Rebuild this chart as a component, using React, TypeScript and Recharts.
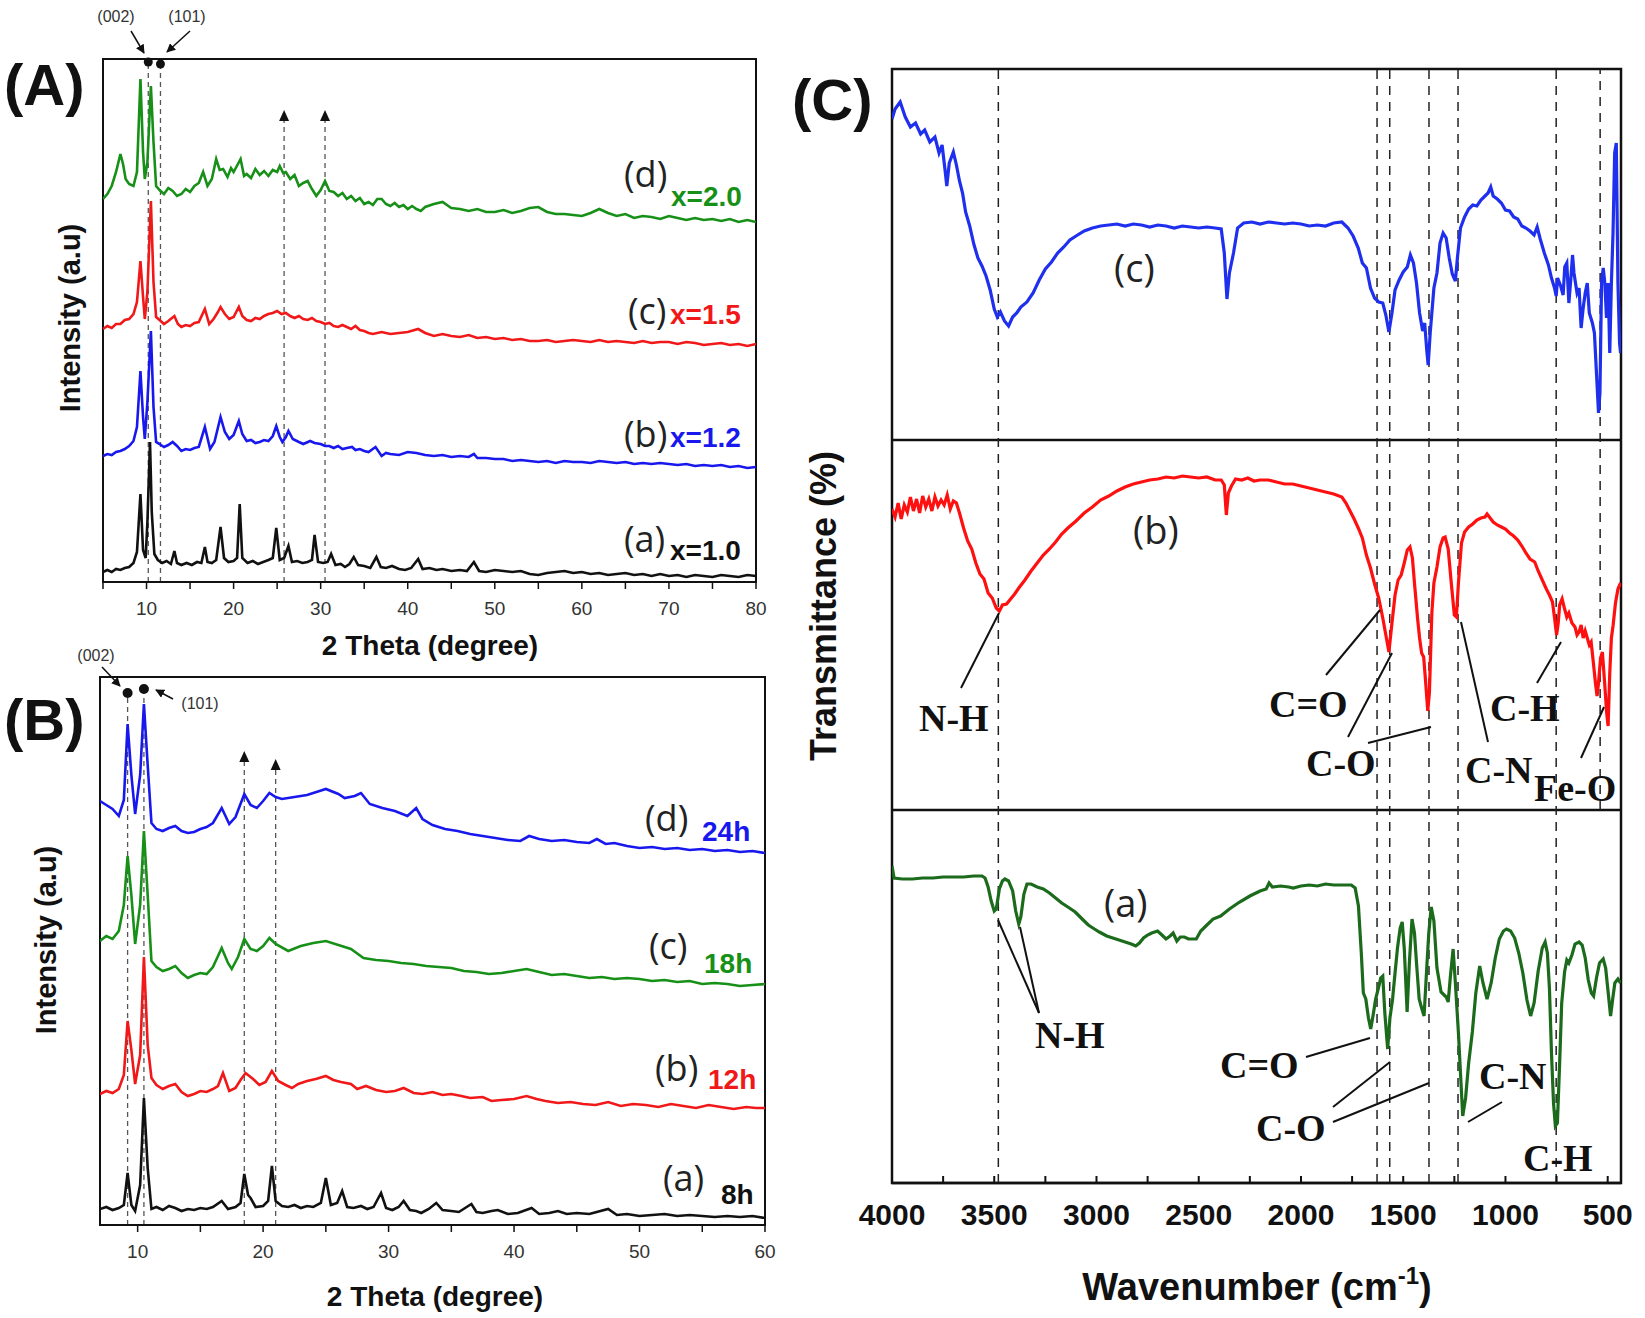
import { LineChart, Line, XAxis, YAxis, ReferenceLine, ReferenceArea, ReferenceDot } from 'recharts'

type Pt = [number, number]

// ---- (A) XRD, x = 1.0 ... 2.0 (intensity in a.u., curves already offset)
const xrdA_x10: Pt[] = [
  [5, 10], [5.5, 12], [6, 10], [6.5, 13], [7, 12], [7.5, 14], [8, 15], [8.5, 19], [8.9, 30], [9.3, 88], [9.6, 32],
  [9.9, 24], [10.1, 60], [10.4, 140], [10.6, 70], [10.9, 28], [11.3, 22], [11.8, 19], [12.3, 21], [12.8, 18],
  [13.2, 31], [13.5, 19], [14, 17], [14.6, 19], [15.2, 17], [15.8, 20], [16.3, 19], [16.7, 35], [17, 20],
  [17.5, 19], [18, 22], [18.5, 55], [18.9, 24], [19.4, 20], [20, 21], [20.4, 24], [20.7, 78], [21, 24],
  [21.6, 19], [22.2, 21], [22.8, 18], [23.4, 20], [24, 22], [24.5, 24], [24.9, 54], [25.3, 22], [25.8, 24],
  [26.3, 36], [26.7, 20], [27.3, 21], [27.9, 19], [28.5, 20], [29, 22], [29.3, 47], [29.7, 20], [30.3, 19],
  [30.8, 20], [31.2, 28], [31.7, 17], [32.3, 18], [32.8, 15], [33.3, 18], [33.8, 25], [34.3, 17], [35, 16],
  [35.7, 14], [36.4, 25], [36.9, 15], [37.5, 14], [38.2, 16], [39, 13], [39.7, 12], [40.4, 14], [41.2, 23],
  [41.7, 13], [42.5, 14], [43.3, 12], [44, 13], [45, 11], [46, 12], [46.8, 11], [47.6, 20], [48.2, 11], [49, 10],
  [50, 12], [51, 11], [52, 10], [53, 11], [54, 8], [55, 7], [56, 9], [57, 10], [58, 11], [59, 9], [60, 10],
  [61, 8], [62, 9], [63, 7], [64, 8], [65, 9], [66, 7], [67, 8], [68, 6], [69, 8], [70, 6], [71, 7], [72, 5],
  [73, 7], [74, 6], [75, 5], [76, 7], [77, 6], [78, 5], [79, 7], [80, 6],
]
const xrdA_x12: Pt[] = [
  [5, 126], [5.5, 128], [6, 127], [6.5, 130], [7, 131], [7.5, 133], [8, 136], [8.5, 141], [8.9, 155], [9.3, 211],
  [9.6, 165], [9.8, 143], [10.1, 180], [10.5, 251], [10.8, 175], [11.1, 140], [11.5, 138], [12, 135], [12.5, 137],
  [13, 140], [13.5, 136], [14, 131], [14.5, 133], [15, 132], [15.5, 134], [16, 135], [16.7, 155], [17.3, 133],
  [17.8, 140], [18.5, 165], [19, 150], [19.5, 143], [20, 147], [20.6, 161], [21, 148], [21.5, 141], [22, 142],
  [22.5, 139], [23, 140], [23.5, 142], [24, 141], [24.5, 146], [24.9, 156], [25.3, 145], [25.6, 140], [26, 145],
  [26.3, 151], [26.8, 143], [27.5, 140], [28, 138], [28.8, 141], [29.3, 139], [30, 138], [30.5, 136], [31, 136],
  [31.5, 134], [32, 136], [32.5, 133], [33, 134], [33.6, 135], [34, 132], [34.5, 133], [35, 131], [35.5, 130],
  [36.3, 135], [37, 126], [37.5, 129], [38, 128], [39, 127], [40, 130], [41, 129], [42, 127], [43, 126], [44, 127],
  [45, 125], [46, 126], [47, 125], [47.6, 128], [48, 124], [49, 124], [50, 123], [51, 123], [52, 121], [53, 122],
  [54, 121], [55, 120], [56, 121], [57, 119], [58, 121], [59, 120], [60, 120], [61, 119], [62, 121], [63, 120],
  [64, 119], [65, 120], [66, 118], [67, 119], [68, 118], [69, 119], [70, 118], [71, 117], [72, 118], [73, 116],
  [74, 117], [75, 116], [76, 117], [77, 115], [78, 116], [79, 114], [80, 115],
]
const xrdA_x15: Pt[] = [
  [5, 253], [5.5, 256], [6, 254], [6.5, 258], [7, 258], [7.5, 262], [8, 263], [8.5, 268], [8.9, 280], [9.3, 321],
  [9.6, 285], [9.8, 263], [10.1, 290], [10.5, 381], [10.8, 300], [11.1, 265], [11.5, 262], [12, 258], [12.5, 261],
  [13.2, 266], [13.6, 258], [14, 255], [14.5, 257], [15, 256], [15.5, 259], [16, 260], [16.7, 273], [17.2, 258],
  [17.7, 263], [18.2, 270], [18.5, 275], [19, 268], [19.5, 263], [20, 265], [20.6, 275], [21, 266], [21.5, 262],
  [22, 261], [22.5, 264], [23, 263], [23.5, 266], [24, 268], [24.5, 269], [25, 271], [25.5, 268], [26, 269],
  [26.5, 266], [27, 264], [27.5, 266], [28, 263], [28.5, 262], [29, 264], [29.5, 261], [30, 260], [30.5, 258],
  [31, 259], [31.5, 256], [32, 255], [32.5, 257], [33, 255], [33.5, 253], [34, 256], [34.5, 252], [35, 251],
  [35.5, 249], [36, 248], [37, 250], [38, 248], [39, 249], [40, 250], [41.2, 253], [42, 249], [43, 246], [44, 248],
  [45, 246], [46, 245], [47, 247], [48, 244], [49, 245], [50, 243], [51, 244], [52, 242], [53, 243], [54, 241],
  [55, 241], [56, 242], [57, 240], [58, 241], [59, 242], [60, 241], [61, 240], [62, 242], [63, 240], [64, 241],
  [65, 240], [66, 239], [67, 241], [68, 239], [69, 240], [70, 240], [71, 238], [72, 240], [73, 239], [74, 237],
  [75, 238], [76, 239], [77, 237], [78, 238], [79, 236], [80, 238],
]
const xrdA_x20: Pt[] = [
  [5, 383], [5.5, 388], [6, 396], [6.5, 410], [7, 428], [7.3, 418], [7.6, 403], [8, 398], [8.5, 396], [8.9, 410],
  [9.3, 503], [9.6, 430], [9.8, 403], [10.1, 420], [10.5, 496], [10.8, 440], [11.1, 396], [11.5, 392], [12, 388],
  [12.5, 394], [13, 391], [13.5, 386], [14, 388], [14.5, 393], [15, 390], [15.5, 396], [16, 399], [16.5, 410],
  [17, 396], [17.5, 403], [18, 423], [18.4, 412], [18.8, 413], [19.3, 405], [19.7, 414], [20, 410], [20.5, 418],
  [20.8, 423], [21.2, 406], [21.5, 408], [22, 404], [22.5, 413], [23, 407], [23.5, 411], [24, 406], [24.5, 412],
  [25, 410], [25.3, 416], [25.7, 409], [26, 410], [26.5, 403], [27, 407], [27.5, 396], [28, 399], [28.5, 401],
  [29, 393], [29.5, 386], [30, 392], [30.5, 401], [31, 391], [31.5, 390], [32, 386], [32.5, 389], [33, 383],
  [33.5, 386], [34, 381], [34.5, 384], [35, 378], [35.5, 380], [36, 377], [36.5, 383], [37, 383], [37.5, 378],
  [38, 376], [38.5, 379], [39, 375], [39.5, 377], [40, 373], [40.5, 376], [41, 373], [41.5, 371], [42, 375],
  [43, 378], [44, 380], [45, 374], [46, 373], [47, 371], [48, 373], [49, 370], [50, 370], [51, 372], [52, 369],
  [53, 371], [54, 374], [55, 375], [56, 370], [57, 368], [58, 368], [59, 367], [60, 366], [61, 369], [62, 373],
  [63, 369], [64, 366], [65, 368], [66, 364], [67, 366], [68, 365], [69, 363], [70, 366], [71, 364], [72, 362],
  [73, 364], [74, 362], [75, 363], [76, 361], [77, 363], [78, 360], [79, 362], [80, 360],
]

// ---- (B) XRD, 8 h ... 24 h
const xrdB_8h: Pt[] = [
  [7, 16], [7.5, 18], [8, 15], [8.5, 17], [8.9, 20], [9.2, 52], [9.5, 20], [9.8, 14], [10.2, 40], [10.5, 127],
  [10.8, 57], [11.1, 16], [11.5, 18], [12, 15], [12.5, 19], [13, 17], [13.5, 14], [14, 16], [14.5, 15], [15, 17],
  [15.5, 16], [16, 18], [16.7, 24], [17.2, 16], [17.8, 18], [18.2, 22], [18.5, 51], [18.8, 30], [19, 27],
  [19.4, 18], [20, 19], [20.4, 24], [20.7, 59], [21, 24], [21.5, 19], [22, 18], [22.5, 20], [23, 17], [23.5, 19],
  [24, 18], [24.6, 22], [25, 47], [25.4, 20], [25.9, 22], [26.3, 34], [26.7, 18], [27.2, 17], [27.8, 19],
  [28.3, 16], [28.8, 18], [29.4, 32], [29.8, 17], [30.3, 15], [30.8, 18], [31.2, 24], [31.7, 15], [32.2, 14],
  [32.6, 12], [33.2, 16], [33.8, 22], [34.3, 15], [35, 14], [35.6, 13], [36.6, 21], [37, 13], [37.5, 12],
  [38.2, 14], [38.7, 15], [39.5, 11], [40.3, 12], [41.4, 17], [42, 11], [42.8, 12], [43.5, 14], [44.2, 11],
  [45, 12], [46, 11], [47.5, 16], [48.2, 10], [49, 11], [50, 9], [51, 10], [52, 11], [53, 9], [54, 10], [55, 9],
  [56, 8], [57, 9], [58, 8], [59, 9], [60, 7],
]
const xrdB_12h: Pt[] = [
  [7, 131], [7.5, 134], [8, 132], [8.5, 136], [8.9, 150], [9.2, 204], [9.5, 175], [9.8, 141], [10.2, 170],
  [10.5, 268], [10.8, 180], [11.1, 147], [11.5, 140], [12, 136], [12.5, 139], [13, 141], [13.5, 133], [14, 129],
  [14.5, 131], [15, 134], [15.5, 133], [16, 136], [16.4, 139], [16.8, 152], [17.3, 134], [17.8, 137], [18.2, 145],
  [18.6, 152], [19.2, 146], [19.7, 140], [20.2, 143], [20.7, 154], [21.2, 144], [21.8, 140], [22.3, 137],
  [22.8, 141], [23.5, 144], [24.2, 146], [25, 149], [25.6, 145], [26.2, 143], [27, 141], [27.5, 136], [28.2, 139],
  [29, 135], [29.8, 133], [30.5, 134], [31.2, 137], [32, 132], [32.7, 131], [33.5, 133], [34.3, 130], [35, 131],
  [35.8, 129], [36.5, 127], [37.5, 128], [38.2, 124], [39, 125], [40, 126], [41, 129], [41.8, 126], [42.5, 124],
  [43.5, 122], [44.5, 123], [45.5, 121], [46.5, 120], [47.5, 123], [48.5, 119], [49.5, 121], [50.5, 120],
  [51.5, 118], [52.5, 121], [53.5, 119], [54.5, 117], [55.5, 120], [56.5, 118], [57.5, 116], [58.5, 118],
  [59.3, 117], [60, 117],
]
const xrdB_18h: Pt[] = [
  [7, 284], [7.5, 289], [8, 286], [8.5, 294], [8.9, 320], [9.2, 369], [9.5, 330], [9.8, 281], [10.2, 320],
  [10.5, 394], [10.8, 330], [11.1, 264], [11.5, 258], [12, 254], [12.5, 256], [13, 259], [13.5, 252], [14, 247],
  [14.5, 250], [15, 252], [15.5, 251], [16, 258], [16.7, 277], [17.2, 262], [17.5, 256], [18, 268], [18.5, 286],
  [19, 276], [19.5, 274], [20, 279], [20.5, 287], [21, 281], [22, 274], [23, 279], [24, 282], [25, 284], [26, 280],
  [27, 276], [28, 267], [29, 265], [30, 264], [31, 262], [32, 261], [33, 259], [34, 258], [35, 257], [36, 254],
  [37, 253], [38, 251], [39, 252], [40, 254], [41, 256], [42, 253], [43, 250], [44, 251], [45, 249], [46, 247],
  [47, 248], [48, 246], [49, 247], [50, 246], [51, 244], [52, 245], [53, 243], [54, 244], [55, 241], [56, 242],
  [57, 241], [58, 239], [59, 240], [60, 241],
]
const xrdB_24h: Pt[] = [
  [7, 424], [7.5, 420], [8, 416], [8.5, 409], [8.9, 425], [9.2, 501], [9.5, 450], [9.8, 411], [10.2, 450],
  [10.5, 521], [10.8, 460], [11.1, 402], [11.5, 396], [12, 394], [12.5, 397], [13, 399], [13.5, 394], [14, 392],
  [14.5, 393], [15, 396], [15.5, 398], [16, 402], [16.7, 417], [17.3, 401], [17.8, 408], [18.5, 431], [19, 420],
  [19.5, 417], [20, 424], [20.5, 432], [21, 428], [21.5, 426], [22.5, 428], [23.5, 430], [24.5, 434], [25, 436],
  [26, 431], [26.5, 427], [27.3, 429], [27.8, 432], [28.5, 421], [29.5, 417], [30.5, 414], [31.5, 409],
  [32.2, 417], [32.7, 406], [33.5, 400], [34.5, 396], [35.5, 394], [36.5, 391], [37.5, 389], [38.5, 387],
  [39.5, 385], [40.5, 384], [41.2, 389], [42, 386], [43, 384], [44, 385], [45, 383], [46, 382], [46.6, 386],
  [47.3, 381], [48, 382], [49, 379], [50, 377], [51, 378], [52, 376], [53, 377], [54, 375], [55, 376], [56, 374],
  [57, 375], [58, 373], [59, 374], [60, 372],
]

// ---- (C) FTIR, transmittance in a.u. (stacked a / b / c)
const ftir_c: Pt[] = [
  [4000, 1064], [3985, 1074], [3960, 1081], [3935, 1066], [3910, 1056], [3885, 1060], [3860, 1049], [3840, 1053],
  [3815, 1041], [3790, 1046], [3770, 1030], [3755, 1038], [3740, 1012], [3732, 997], [3720, 1020], [3700, 1031],
  [3685, 1018], [3670, 1002], [3655, 990], [3640, 971], [3620, 957], [3600, 939], [3580, 925], [3560, 917],
  [3540, 907], [3520, 893], [3500, 874], [3485, 866], [3470, 871], [3450, 862], [3430, 857], [3410, 866],
  [3390, 870], [3370, 876], [3340, 881], [3310, 890], [3280, 903], [3250, 914], [3220, 921], [3190, 930],
  [3160, 936], [3130, 943], [3100, 947], [3060, 952], [3020, 955], [2980, 957], [2940, 958], [2900, 959],
  [2860, 957], [2820, 959], [2780, 958], [2740, 956], [2700, 958], [2660, 957], [2620, 955], [2580, 957],
  [2540, 956], [2500, 955], [2460, 956], [2420, 955], [2390, 954], [2375, 930], [2362, 884], [2350, 910],
  [2340, 920], [2330, 930], [2310, 955], [2280, 960], [2240, 961], [2200, 959], [2160, 961], [2120, 960],
  [2080, 959], [2040, 960], [2000, 959], [1960, 957], [1920, 958], [1880, 957], [1840, 960], [1800, 961],
  [1770, 955], [1745, 947], [1720, 935], [1700, 920], [1680, 915], [1660, 895], [1640, 885], [1620, 881],
  [1600, 880], [1585, 868], [1570, 851], [1555, 870], [1540, 893], [1520, 903], [1500, 911], [1480, 916],
  [1465, 928], [1450, 920], [1435, 900], [1420, 870], [1405, 852], [1395, 860], [1385, 833], [1378, 818],
  [1368, 850], [1350, 895], [1335, 910], [1320, 940], [1305, 950], [1290, 945], [1275, 925], [1260, 909],
  [1245, 902], [1235, 925], [1220, 955], [1200, 966], [1180, 974], [1160, 978], [1140, 977], [1120, 983],
  [1100, 987], [1085, 990], [1072, 996], [1060, 987], [1040, 984], [1020, 980], [1000, 973], [980, 972],
  [960, 966], [940, 964], [920, 957], [900, 955], [880, 952], [860, 948], [845, 956], [830, 944], [810, 930],
  [790, 918], [775, 905], [760, 895], [752, 887], [745, 905], [730, 897], [718, 888], [710, 916], [700, 920],
  [690, 880], [680, 905], [672, 928], [665, 910], [650, 890], [640, 895], [630, 855], [620, 875], [610, 890],
  [600, 900], [590, 870], [575, 860], [565, 850], [555, 810], [545, 770], [538, 790], [530, 900], [522, 915],
  [514, 900], [506, 865], [498, 900], [490, 830], [482, 900], [474, 950], [466, 1030], [458, 1040], [450, 900],
  [442, 840], [437, 830],
]
const ftir_b: Pt[] = [
  [4000, 674], [3985, 666], [3970, 680], [3955, 664], [3940, 678], [3925, 671], [3910, 686], [3895, 672],
  [3880, 684], [3865, 670], [3850, 687], [3835, 676], [3820, 684], [3805, 672], [3790, 686], [3775, 677],
  [3760, 683], [3745, 678], [3730, 688], [3715, 674], [3700, 682], [3685, 680], [3670, 670], [3650, 655],
  [3630, 642], [3610, 634], [3590, 620], [3570, 609], [3550, 604], [3530, 590], [3510, 585], [3490, 575],
  [3475, 572], [3460, 578], [3440, 579], [3420, 584], [3400, 589], [3380, 595], [3350, 603], [3320, 612],
  [3290, 620], [3260, 628], [3230, 634], [3200, 641], [3170, 649], [3140, 655], [3100, 662], [3060, 670],
  [3020, 676], [2980, 683], [2940, 687], [2900, 692], [2860, 696], [2820, 699], [2780, 701], [2740, 703],
  [2700, 704], [2660, 706], [2620, 705], [2580, 707], [2540, 706], [2500, 705], [2460, 706], [2420, 703],
  [2390, 703], [2375, 698], [2365, 668], [2355, 690], [2340, 697], [2320, 704], [2290, 703], [2260, 705],
  [2230, 702], [2200, 703], [2160, 703], [2120, 701], [2080, 699], [2040, 699], [2000, 697], [1960, 695],
  [1920, 693], [1880, 691], [1840, 689], [1800, 686], [1780, 680], [1760, 672], [1740, 664], [1720, 655],
  [1700, 645], [1680, 628], [1660, 615], [1640, 599], [1620, 585], [1600, 565], [1585, 548], [1570, 531],
  [1555, 560], [1540, 588], [1525, 603], [1510, 608], [1495, 620], [1480, 633], [1467, 636], [1455, 625],
  [1445, 600], [1430, 565], [1420, 545], [1410, 530], [1400, 526], [1390, 500], [1380, 472], [1372, 490],
  [1360, 570], [1350, 600], [1335, 616], [1320, 636], [1305, 645], [1295, 646], [1280, 634], [1265, 600],
  [1250, 568], [1240, 566], [1230, 600], [1215, 640], [1200, 651], [1180, 656], [1160, 659], [1140, 663],
  [1120, 665], [1100, 666], [1090, 669], [1075, 665], [1060, 661], [1040, 658], [1020, 656], [1000, 654],
  [980, 650], [960, 647], [940, 643], [920, 637], [900, 630], [880, 624], [857, 621], [840, 612], [820, 603],
  [800, 594], [785, 588], [770, 581], [760, 565], [750, 548], [742, 560], [735, 578], [723, 584], [712, 575],
  [700, 566], [690, 570], [675, 560], [660, 556], [650, 548], [640, 551], [630, 558], [620, 545], [610, 552],
  [600, 545], [590, 538], [581, 541], [570, 520], [560, 500], [552, 487], [545, 500], [535, 525], [526, 531],
  [515, 500], [505, 470], [498, 457], [490, 510], [482, 545], [474, 557], [462, 580], [450, 594], [437, 600],
]
const ftir_a: Pt[] = [
  [4000, 317], [3990, 305], [3950, 304], [3900, 304], [3850, 305], [3800, 305], [3750, 306], [3700, 306],
  [3650, 306], [3600, 307], [3560, 307], [3545, 305], [3530, 296], [3515, 282], [3500, 272], [3490, 274],
  [3475, 294], [3460, 302], [3448, 304], [3430, 302], [3410, 292], [3395, 272], [3380, 259], [3370, 266],
  [3355, 289], [3340, 299], [3320, 299], [3290, 296], [3260, 294], [3230, 290], [3200, 285], [3170, 280],
  [3140, 276], [3104, 271], [3070, 264], [3040, 258], [3010, 254], [2986, 251], [2950, 247], [2920, 245],
  [2890, 243], [2860, 241], [2830, 239], [2808, 237], [2790, 240], [2770, 245], [2750, 248], [2730, 250],
  [2701, 252], [2680, 248], [2660, 244], [2640, 247], [2625, 250], [2607, 242], [2590, 246], [2570, 246],
  [2550, 244], [2530, 244], [2512, 244], [2490, 252], [2460, 258], [2430, 264], [2393, 267], [2350, 274],
  [2300, 281], [2250, 287], [2200, 292], [2170, 294], [2156, 300], [2140, 296], [2100, 297], [2060, 296],
  [2038, 295], [2000, 297], [1960, 298], [1920, 297], [1880, 299], [1840, 298], [1800, 298], [1754, 298],
  [1735, 295], [1719, 277], [1705, 230], [1695, 190], [1683, 184], [1670, 165], [1659, 154], [1647, 168],
  [1635, 184], [1620, 196], [1610, 205], [1600, 207], [1590, 170], [1576, 134], [1565, 165], [1552, 184],
  [1540, 210], [1528, 235], [1515, 255], [1505, 261], [1495, 235], [1481, 171], [1470, 220], [1457, 264],
  [1445, 250], [1435, 220], [1422, 184], [1410, 175], [1398, 167], [1385, 215], [1375, 250], [1363, 276],
  [1350, 262], [1335, 215], [1315, 191], [1300, 188], [1290, 186], [1280, 181], [1270, 205], [1256, 234],
  [1245, 200], [1230, 150], [1220, 110], [1209, 67], [1195, 85], [1180, 120], [1162, 151], [1145, 190],
  [1126, 217], [1110, 200], [1090, 184], [1070, 200], [1050, 225], [1030, 244], [1010, 252], [995, 254],
  [975, 252], [955, 245], [935, 230], [915, 210], [895, 183], [877, 167], [860, 180], [840, 212], [820, 235],
  [806, 241], [795, 230], [785, 195], [775, 130], [765, 80], [756, 57], [746, 60], [735, 120], [725, 180],
  [711, 211], [700, 223], [690, 220], [675, 228], [660, 239], [640, 241], [625, 238], [610, 225], [595, 203],
  [580, 190], [569, 187], [555, 205], [540, 220], [522, 224], [510, 215], [500, 195], [490, 175], [486, 167],
  [475, 185], [465, 200], [450, 204], [437, 200],
]

// marker positions
const peaksA_hkl = [10.2, 11.6]
const peaksA_tri = [25.8, 30.5]
const peaksB_hkl = [9.2, 10.5]
const peaksB_tri = [18.5, 21.0]
const ftirBands = [3480, 1628, 1566, 1374, 1232, 752]
const ftirFeO = 537

const ticksA = [5, 10, 15, 20, 25, 30, 35, 40, 45, 50, 55, 60, 65, 70, 75, 80]
const ticksB = [10, 15, 20, 25, 30, 35, 40, 45, 50, 55, 60]
const ticksC = [500, 750, 1000, 1250, 1500, 1750, 2000, 2250, 2500, 2750, 3000, 3250, 3500, 3750, 4000]

const rows = (pts: Pt[]) => pts.map(([x, y]) => ({ x, y }))

const SANS = '"Liberation Sans", Arial, sans-serif'
const LIGHT = '"Open Sans", Lato, sans-serif'
const SERIF = '"Liberation Serif", "Times New Roman", serif'

const GREEN = '#179017'
const RED = '#f01818'
const BLUE = '#1818ee'
const BLACK = '#111'
const XW = 2.6

const tri = (p: any) => (
  <path d={`M${p.cx},${p.cy - 6} L${p.cx + 5},${p.cy + 5} L${p.cx - 5},${p.cy + 5} Z`} fill="#111" />
)

function PanelA() {
  const ymax = 523
  return (
    <LineChart width={780} height={680} margin={{ top: 59, right: 24, bottom: 58, left: 103 }}
      style={{ position: 'absolute', left: 0, top: 0 }}>
      <XAxis dataKey="x" type="number" domain={[5, 80]} allowDataOverflow ticks={ticksA} height={40}
        tickFormatter={(v: number) => (v % 10 === 0 ? String(v) : '')}
        tick={{ fontSize: 19, fill: '#333', fontFamily: SANS }} tickSize={7} tickMargin={13}
        axisLine={{ stroke: BLACK, strokeWidth: 2 }} tickLine={{ stroke: BLACK, strokeWidth: 1.5 }} />
      <YAxis type="number" domain={[0, ymax]} allowDataOverflow hide />
      <ReferenceArea x1={5} x2={80} y1={0} y2={ymax} fill="none" stroke={BLACK} strokeWidth={2} />
      {peaksA_hkl.map((x) => (
        <ReferenceLine key={x} segment={[{ x, y: 0 }, { x, y: ymax - 3 }]} stroke="#555" strokeDasharray="5 4" strokeWidth={1.3} />
      ))}
      {peaksA_tri.map((x) => (
        <ReferenceLine key={x} segment={[{ x, y: 0 }, { x, y: 466 }]} stroke="#555" strokeDasharray="5 4" strokeWidth={1.3} />
      ))}
      <Line data={rows(xrdA_x10)} dataKey="y" stroke={BLACK} strokeWidth={XW} dot={false} isAnimationActive={false} />
      <Line data={rows(xrdA_x12)} dataKey="y" stroke={BLUE} strokeWidth={XW} dot={false} isAnimationActive={false} />
      <Line data={rows(xrdA_x15)} dataKey="y" stroke={RED} strokeWidth={XW} dot={false} isAnimationActive={false} />
      <Line data={rows(xrdA_x20)} dataKey="y" stroke={GREEN} strokeWidth={XW} dot={false} isAnimationActive={false} />
      {peaksA_hkl.map((x, i) => (
        <ReferenceDot key={x} x={x} y={ymax - 3 - i * 2} r={4.5} fill={BLACK} stroke="none" ifOverflow="visible" />
      ))}
      {peaksA_tri.map((x) => (
        <ReferenceDot key={x} x={x} y={466} r={5} shape={tri} ifOverflow="visible" />
      ))}
    </LineChart>
  )
}

function PanelB() {
  const ymax = 548
  return (
    <LineChart width={790} height={680} margin={{ top: 37, right: 25, bottom: 55, left: 100 }}
      style={{ position: 'absolute', left: 0, top: 640 }}>
      <XAxis dataKey="x" type="number" domain={[7, 60]} allowDataOverflow ticks={ticksB} height={40}
        tickFormatter={(v: number) => (v % 10 === 0 ? String(v) : '')}
        tick={{ fontSize: 19, fill: '#333', fontFamily: SANS }} tickSize={7} tickMargin={13}
        axisLine={{ stroke: BLACK, strokeWidth: 2 }} tickLine={{ stroke: BLACK, strokeWidth: 1.5 }} />
      <YAxis type="number" domain={[0, ymax]} allowDataOverflow hide />
      <ReferenceArea x1={7} x2={60} y1={0} y2={ymax} fill="none" stroke={BLACK} strokeWidth={2} />
      {peaksB_hkl.map((x, i) => (
        <ReferenceLine key={x} segment={[{ x, y: 0 }, { x, y: 534 + i * 3 }]} stroke="#555" strokeDasharray="5 4" strokeWidth={1.3} />
      ))}
      {peaksB_tri.map((x, i) => (
        <ReferenceLine key={x} segment={[{ x, y: 0 }, { x, y: 468 - i * 8 }]} stroke="#555" strokeDasharray="5 4" strokeWidth={1.3} />
      ))}
      <Line data={rows(xrdB_8h)} dataKey="y" stroke={BLACK} strokeWidth={XW} dot={false} isAnimationActive={false} />
      <Line data={rows(xrdB_12h)} dataKey="y" stroke={RED} strokeWidth={XW} dot={false} isAnimationActive={false} />
      <Line data={rows(xrdB_18h)} dataKey="y" stroke={GREEN} strokeWidth={XW} dot={false} isAnimationActive={false} />
      <Line data={rows(xrdB_24h)} dataKey="y" stroke={BLUE} strokeWidth={XW} dot={false} isAnimationActive={false} />
      {peaksB_hkl.map((x, i) => (
        <ReferenceDot key={x} x={x} y={532 + i * 4} r={5} fill={BLACK} stroke="none" ifOverflow="visible" />
      ))}
      {peaksB_tri.map((x, i) => (
        <ReferenceDot key={x} x={x} y={468 - i * 8} r={5} shape={tri} ifOverflow="visible" />
      ))}
    </LineChart>
  )
}

function PanelC() {
  const ymax = 1114
  return (
    <LineChart width={805} height={1278} margin={{ top: 29, right: 24, bottom: 75, left: 52 }}
      style={{ position: 'absolute', left: 840, top: 40 }}>
      <XAxis dataKey="x" type="number" domain={[435, 4000]} reversed allowDataOverflow ticks={ticksC} height={60}
        interval={0}
        tickFormatter={(v: number) => (v % 500 === 0 ? String(v) : '')}
        tick={{ fontSize: 30, fill: '#111', fontFamily: SANS, fontWeight: 700 }} tickSize={-7} tickMargin={28}
        axisLine={{ stroke: BLACK, strokeWidth: 2.5 }} tickLine={{ stroke: BLACK, strokeWidth: 2 }} />
      <YAxis type="number" domain={[0, ymax]} allowDataOverflow hide />
      <ReferenceArea x1={435} x2={4000} y1={0} y2={ymax} fill="none" stroke={BLACK} strokeWidth={2.5} />
      <ReferenceLine y={743} stroke={BLACK} strokeWidth={2.5} />
      <ReferenceLine y={373} stroke={BLACK} strokeWidth={2.5} />
      {ftirBands.map((x) => (
        <ReferenceLine key={x} segment={[{ x, y: 0 }, { x, y: ymax }]} stroke="#222" strokeDasharray="9 7" strokeWidth={1.5} />
      ))}
      <ReferenceLine segment={[{ x: ftirFeO, y: 373 }, { x: ftirFeO, y: ymax }]} stroke="#222" strokeDasharray="9 7" strokeWidth={1.5} />
      <Line data={rows(ftir_a)} dataKey="y" stroke="#1c6b1c" strokeWidth={3.2} dot={false} isAnimationActive={false} />
      <Line data={rows(ftir_b)} dataKey="y" stroke="#ff1010" strokeWidth={3.2} dot={false} isAnimationActive={false} />
      <Line data={rows(ftir_c)} dataKey="y" stroke="#1f2fee" strokeWidth={3.2} dot={false} isAnimationActive={false} />
    </LineChart>
  )
}

function Overlay() {
  const lead = { stroke: '#111', strokeWidth: 2 }
  const ftirLbl = { fontFamily: SERIF, fontWeight: 700, fontSize: 38, fill: '#111' }
  const curve = { fontFamily: LIGHT, fontSize: 36, fill: '#222' }
  const sub = { fontFamily: SANS, fontWeight: 700, fontSize: 28 }
  const small = { fontFamily: '"Liberation Sans Narrow", "Liberation Sans", sans-serif', fontSize: 16, fill: '#333' }
  return (
    <svg width={1645} height={1318} style={{ position: 'absolute', left: 0, top: 0, pointerEvents: 'none' }}>
      <defs>
        <marker id="ah" viewBox="0 0 10 10" refX="9" refY="5" markerWidth="6" markerHeight="6" orient="auto">
          <path d="M0,0 L10,5 L0,10 z" fill="#111" />
        </marker>
      </defs>

      {/* panel letters */}
      <text x={4} y={105} fontFamily={SANS} fontWeight={700} fontSize={58} fill="#111">(A)</text>
      <text x={4} y={740} fontFamily={SANS} fontWeight={700} fontSize={58} fill="#111">(B)</text>
      <text x={792} y={120} fontFamily={SANS} fontWeight={700} fontSize={58} fill="#111">(C)</text>

      {/* axis titles */}
      <text x={430} y={655} textAnchor="middle" fontFamily={SANS} fontWeight={700} fontSize={28} fill="#111">2 Theta (degree)</text>
      <text x={435} y={1306} textAnchor="middle" fontFamily={SANS} fontWeight={700} fontSize={28} fill="#111">2 Theta (degree)</text>
      <text transform="translate(80,318) rotate(-90)" textAnchor="middle" fontFamily={SANS} fontWeight={700} fontSize={29} fill="#111">Intensity (a.u)</text>
      <text transform="translate(56,940) rotate(-90)" textAnchor="middle" fontFamily={SANS} fontWeight={700} fontSize={29} fill="#111">Intensity (a.u)</text>
      <text transform="translate(836,606) rotate(-90)" textAnchor="middle" fontFamily={SANS} fontWeight={700} fontSize={36} fill="#111">Transmittance (%)</text>
      <text x={1257} y={1300} textAnchor="middle" fontFamily={SANS} fontWeight={700} fontSize={38} fill="#111">
        Wavenumber (cm<tspan fontSize={24} dy={-16}>-1</tspan><tspan dy={16}>)</tspan>
      </text>

      {/* (A) curve labels */}
      <text x={624} y={187} {...curve}>(d)</text>
      <text x={671} y={206} {...sub} fill={GREEN}>x=2.0</text>
      <text x={628} y={324} {...curve}>(c)</text>
      <text x={670} y={324} {...sub} fill={RED}>x=1.5</text>
      <text x={624} y={447} {...curve}>(b)</text>
      <text x={670} y={447} {...sub} fill={BLUE}>x=1.2</text>
      <text x={624} y={552} {...curve}>(a)</text>
      <text x={670} y={560} {...sub} fill={BLACK}>x=1.0</text>

      {/* (B) curve labels */}
      <text x={645} y={831} {...curve}>(d)</text>
      <text x={702} y={841} {...sub} fill={BLUE}>24h</text>
      <text x={649} y={959} {...curve}>(c)</text>
      <text x={704} y={973} {...sub} fill={GREEN}>18h</text>
      <text x={655} y={1081} {...curve}>(b)</text>
      <text x={708} y={1089} {...sub} fill={RED}>12h</text>
      <text x={663} y={1191} {...curve}>(a)</text>
      <text x={721} y={1204} {...sub} fill={BLACK}>8h</text>

      {/* hkl annotations */}
      <text x={116} y={22} textAnchor="middle" {...small}>(002)</text>
      <text x={187} y={22} textAnchor="middle" {...small}>(101)</text>
      <line x1={131} y1={31} x2={144} y2={53} {...lead} strokeWidth={1.5} markerEnd="url(#ah)" />
      <line x1={190} y1={31} x2={167} y2={52} {...lead} strokeWidth={1.5} markerEnd="url(#ah)" />
      <text x={96} y={661} textAnchor="middle" {...small}>(002)</text>
      <text x={200} y={709} textAnchor="middle" {...small}>(101)</text>
      <line x1={102} y1={667} x2={120} y2={686} {...lead} strokeWidth={1.5} markerEnd="url(#ah)" />
      <line x1={173} y1={699} x2={156} y2={690} {...lead} strokeWidth={1.5} markerEnd="url(#ah)" />

      {/* (C) spectrum labels */}
      <text x={1114} y={282} {...curve} fontSize={38}>(c)</text>
      <text x={1133} y={544} {...curve} fontSize={38}>(b)</text>
      <text x={1104} y={917} {...curve} fontSize={38}>(a)</text>

      {/* FTIR middle */}
      <text x={919} y={731} {...ftirLbl}>N-H</text>
      <line x1={961} y1={688} x2={999} y2={613} {...lead} />
      <text x={1269} y={717} {...ftirLbl}>C=O</text>
      <line x1={1326} y1={675} x2={1380} y2={610} {...lead} />
      <text x={1306} y={776} {...ftirLbl}>C-O</text>
      <line x1={1348} y1={737} x2={1392} y2={653} {...lead} />
      <line x1={1368} y1={743} x2={1431} y2={727} {...lead} />
      <text x={1465} y={783} {...ftirLbl}>C-N</text>
      <line x1={1488} y1={742} x2={1461} y2={622} {...lead} />
      <text x={1490} y={721} {...ftirLbl}>C-H</text>
      <line x1={1537} y1={683} x2={1561} y2={642} {...lead} />
      <text x={1534} y={801} {...ftirLbl}>Fe-O</text>
      <line x1={1581} y1={758} x2={1604} y2={707} {...lead} />

      {/* FTIR bottom */}
      <text x={1035} y={1048} {...ftirLbl}>N-H</text>
      <line x1={1039} y1={1013} x2={998} y2={920} {...lead} />
      <line x1={1039} y1={1013} x2={1020} y2={927} {...lead} />
      <text x={1220} y={1078} {...ftirLbl}>C=O</text>
      <line x1={1306} y1={1057} x2={1370} y2={1038} {...lead} />
      <text x={1256} y={1141} {...ftirLbl}>C-O</text>
      <line x1={1333} y1={1107} x2={1390} y2={1062} {...lead} />
      <line x1={1333} y1={1122} x2={1429} y2={1083} {...lead} />
      <text x={1479} y={1089} {...ftirLbl}>C-N</text>
      <line x1={1502} y1={1102} x2={1468} y2={1122} {...lead} />
      <text x={1523} y={1171} {...ftirLbl}>C-H</text>
    </svg>
  )
}

export default function App() {
  return (
    <div style={{ position: 'absolute', left: 0, top: 0, width: 1645, height: 1318, background: '#fff' }}>
      <PanelA />
      <PanelB />
      <PanelC />
      <Overlay />
    </div>
  )
}
